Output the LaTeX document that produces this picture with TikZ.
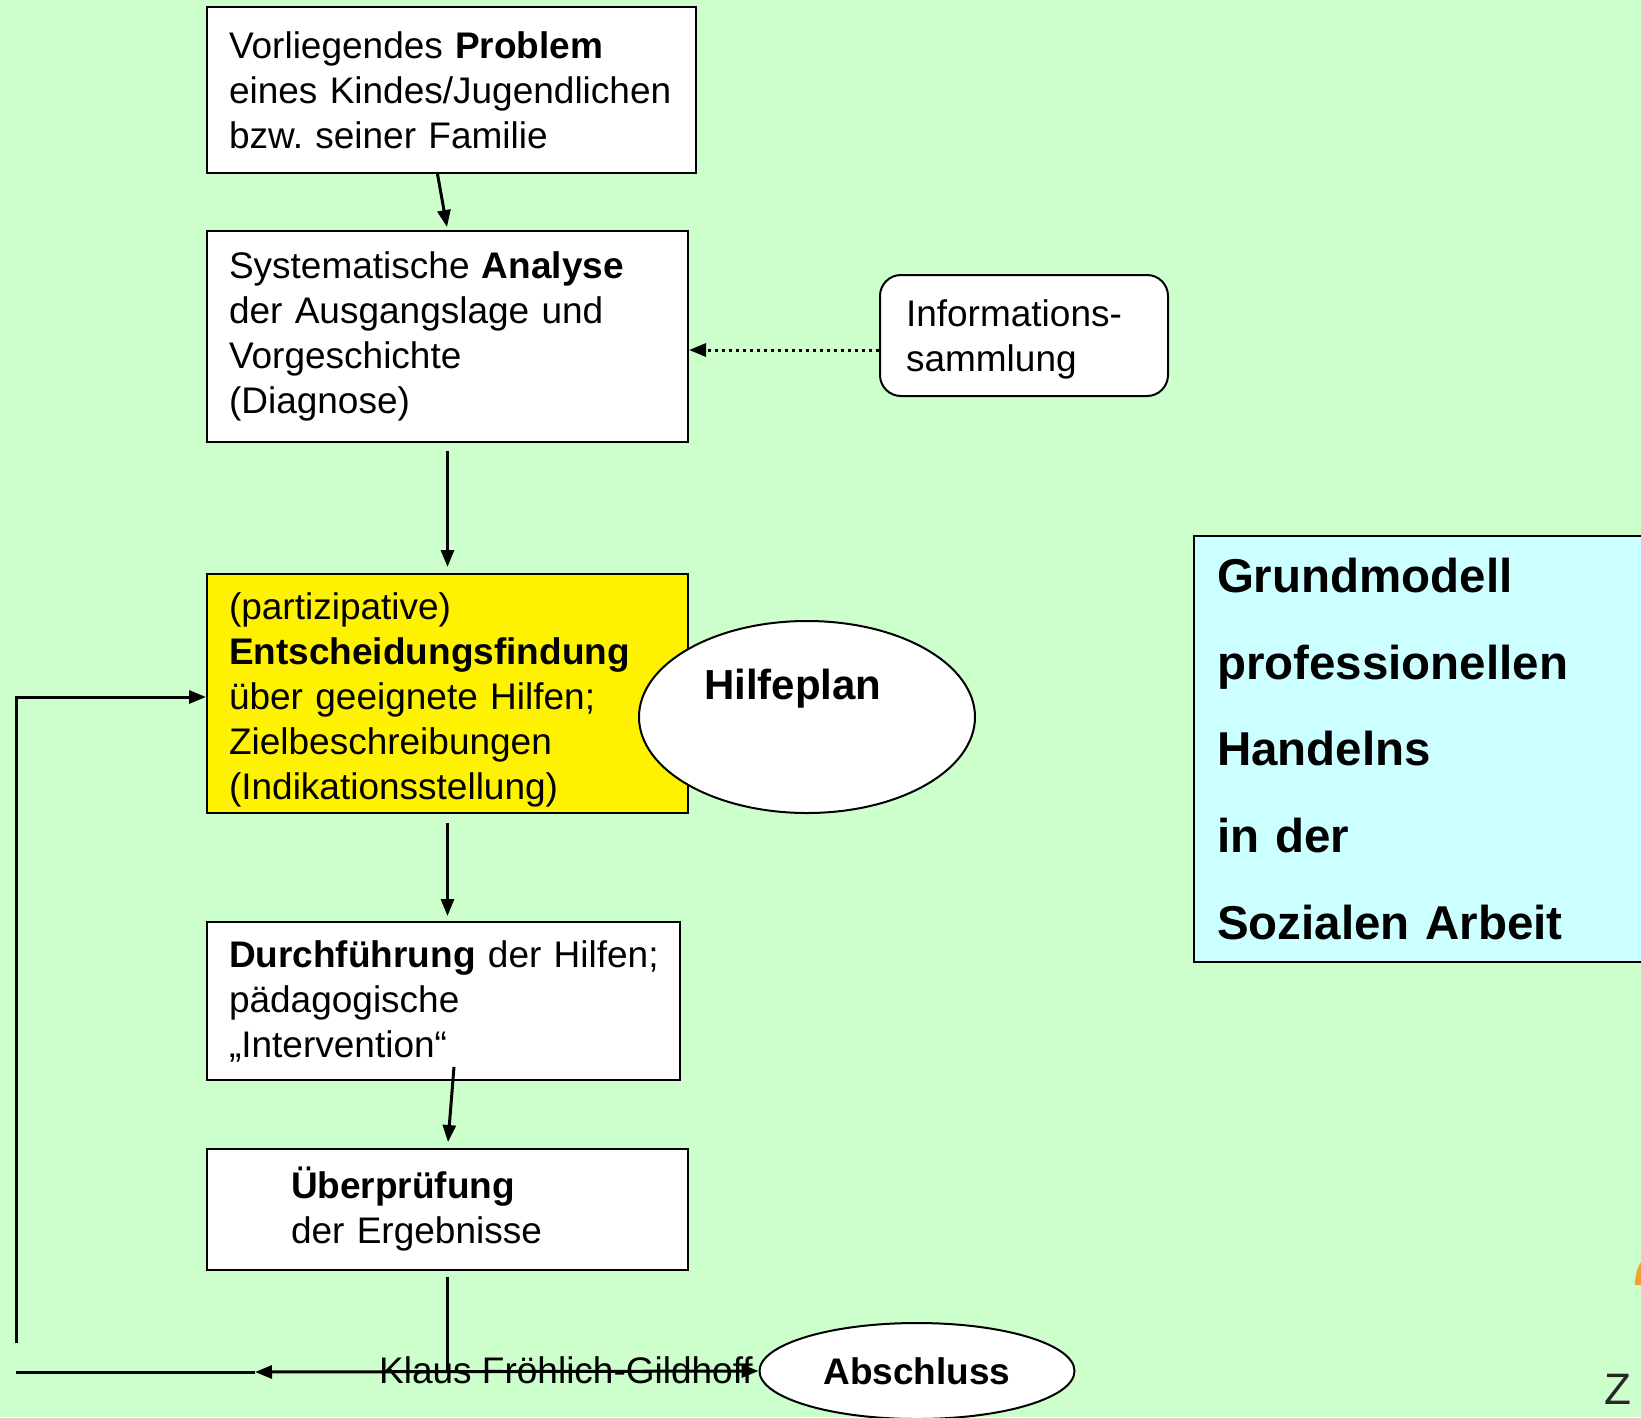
\documentclass[tikz,border=0pt]{standalone}
\usepackage{fontspec}
\setmainfont{Liberation Sans}
\usetikzlibrary{arrows.meta,shapes.geometric}
\definecolor{hgruen}{HTML}{CCFFCC}
\definecolor{hcyan}{HTML}{CCFFFF}
\definecolor{logoorange}{HTML}{F5A035}
\frenchspacing
\begin{document}
\begin{tikzpicture}[x=1pt,y=-1pt,
box/.style={draw,fill=white,line width=2pt,align=left,inner xsep=22pt,inner ysep=0pt,font=\fontsize{37}{45}\selectfont},
oval/.style={draw,fill=white,ellipse,line width=2pt,inner sep=0pt},
pfeil/.style={line width=3pt,-{Triangle[length=17pt,width=13pt]}}]
\useasboundingbox(0,0)rectangle(1641,1417);
\clip(0,0)rectangle(1641,1417);
\fill[hgruen](0,0)rectangle(1641,1417);
\node[box,text width=445pt,minimum height=166pt](problem)at(451.5,90){Vorliegendes \textbf{Problem}\\eines Kindes/Jugendlichen\\bzw. seiner Familie};
\node[box,text width=437pt,minimum height=211pt](analyse)at(447.5,336.5){Systematische \textbf{Analyse}\\der Ausgangslage und\\Vorgeschichte\\(Diagnose)};
\node[box,rounded corners=21pt,inner xsep=26pt,text width=236pt,minimum height=121pt](info)at(1024,335.5){\rule{0pt}{34pt}Informations-\\sammlung};
\node[box,fill=yellow,text width=437pt,minimum height=239pt](entscheid)at(447.5,693.5){\rule{0pt}{40pt}(partizipative)\\\textbf{Entscheidungsfindung}\\über geeignete Hilfen;\\Zielbeschreibungen\\(Indikationsstellung)};
\node[oval,minimum width=336pt,minimum height=192pt](hilfeplan)at(807,717){};
\node[anchor=base west,inner sep=0pt,font=\fontsize{42}{42}\selectfont\bfseries](hilfetext)at(704,699){Hilfeplan};
\node[box,text width=429pt,minimum height=158pt](durchf)at(443.5,1001){\mbox{\textbf{Durchführung} der Hilfen;}\\pädagogische\\„Intervention“};
\node[box,text width=437pt,minimum height=121pt](pruef)at(447.5,1209.5){\hspace*{62pt}\textbf{Überprüfung}\\\hspace*{62pt}der Ergebnisse};
\node[draw,fill=hcyan,line width=2pt,align=left,inner xsep=23pt,inner ysep=0pt,text width=420pt,minimum height=426pt,font=\fontsize{47.5}{86.7}\selectfont\bfseries](titel)at(1427,749){Grundmodell\\professionellen\\Handelns\\in der\\Sozialen Arbeit};
\node[anchor=base west,inner sep=0pt,font=\fontsize{37}{37}\selectfont](autor)at(379,1383){Klaus Fröhlich-Gildhoff};
\node[oval,minimum width=315pt,minimum height=96pt,font=\fontsize{37}{37}\selectfont\bfseries](abschluss)at(917,1371){Abschluss};
\coordinate(zurueck)at(255,1372);
\coordinate(links)at(16,1372);
\coordinate(schleife)at(16,1343);
\draw[pfeil,shorten >=3pt]([xshift=-14pt]problem.south)--(analyse.north);
\draw[pfeil,dash pattern=on 3.5pt off 3.5pt]([yshift=-14.5pt]info.west)--([yshift=-14.5pt]info.west-|analyse.east);
\draw[pfeil,shorten <=8pt,shorten >=6pt](analyse.south)--(entscheid.north);
\draw[pfeil,shorten <=9pt,shorten >=5pt](entscheid.south)--(entscheid.south|-durchf.north);
\draw[pfeil,shorten >=6pt]([xshift=10.5pt,yshift=14pt]durchf.south)--(pruef.north);
\draw[line width=3pt]([yshift=-5.5pt]pruef.south)--(pruef.south|-zurueck);
\draw[line width=3pt](links)--(zurueck);
\draw[line width=3pt,{Triangle[length=17pt,width=13pt]}-{Triangle[length=17pt,width=13pt]}](zurueck)--(abschluss.west);
\draw[pfeil,line join=miter](schleife)|-([yshift=-3.5pt]entscheid.west);
\fill[logoorange](1641,1262)..controls(1637,1268)and(1635,1276)..(1635,1285)--(1641,1285)--cycle;
\node[anchor=north west,inner sep=0pt,text=black!85,font=\fontsize{44}{44}\selectfont](logo)at(1604,1374){Z};
\end{tikzpicture}
\end{document}
